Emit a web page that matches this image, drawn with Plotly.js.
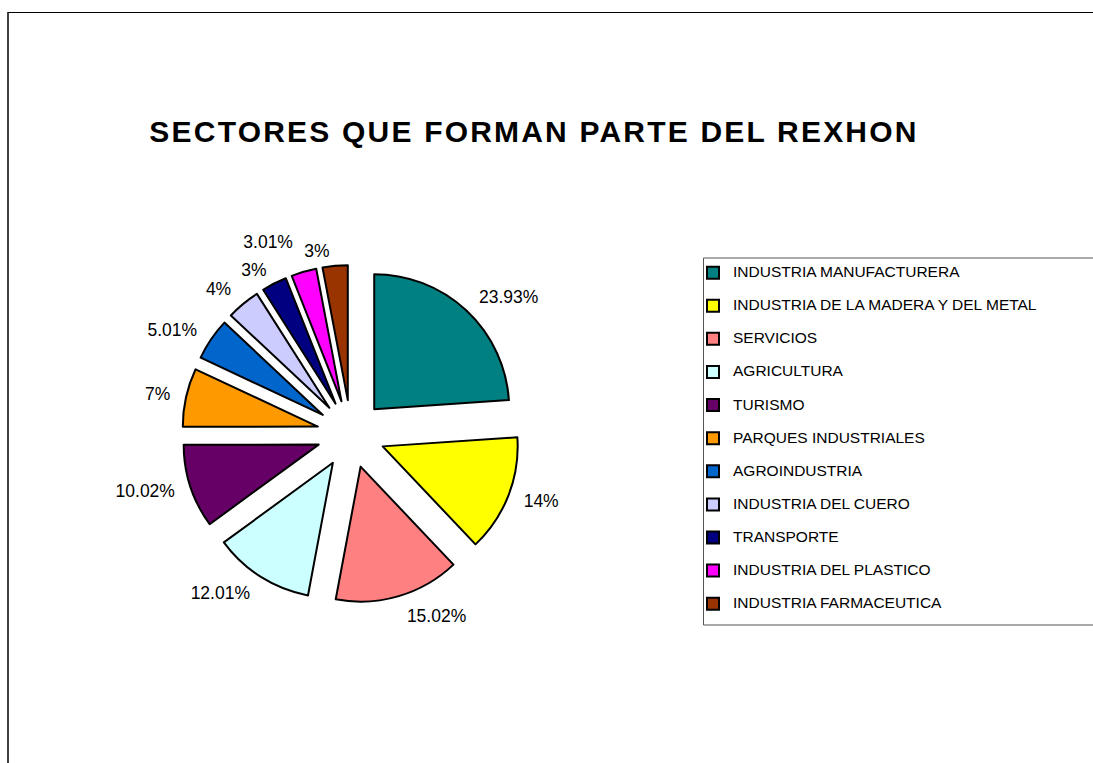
<!DOCTYPE html>
<html>
<head>
<meta charset="utf-8">
<script src="https://cdn.plot.ly/plotly-3.0.1.min.js"></script>
<style>
  html, body { margin: 0; padding: 0; background: #ffffff; }
  #chart { width: 1093px; height: 763px; }
</style>
</head>
<body>
<div id="chart"></div>
<script>
// ---- data ----
const categories = [
  "INDUSTRIA MANUFACTURERA",
  "INDUSTRIA DE LA MADERA Y DEL METAL",
  "SERVICIOS",
  "AGRICULTURA",
  "TURISMO",
  "PARQUES INDUSTRIALES",
  "AGROINDUSTRIA",
  "INDUSTRIA DEL CUERO",
  "TRANSPORTE",
  "INDUSTRIA DEL PLASTICO",
  "INDUSTRIA FARMACEUTICA"
];
const percentages = [23.93, 14, 15.02, 12.01, 10.02, 7, 5.01, 4, 3, 3.01, 3];
const sliceColors = [
  "#008080", "#FFFF00", "#FF8080", "#CCFFFF", "#660066", "#FF9900",
  "#0066CC", "#CCCCFF", "#000080", "#FF00FF", "#993300"
];
const chartTitle = "SECTORES QUE FORMAN PARTE DEL REXHON";

// ---- chart geometry ----
const W = 1093, H = 763;
const px = v => v / W;
const py = v => 1 - v / H;
const CX = 351, CY = 434;     // pie centre (px)
const R = 135;                // slice radius (px)
const SLICE_PULL = 34 / R;    // explode distance

// domain that gives radius R for a given pull
function domainFor(pull) {
  const half = R * (1 + pull);
  return { x: [px(CX - half), px(CX + half)], y: [py(CY + half), py(CY - half)] };
}

const legendLabels = categories.map(c => '<span style="font-size:15.5px">' + c + '</span><br> ');
const labelText = percentages.map(v => v + '%');
const labelFont = { size: 17.5, color: '#000000', family: 'Liberation Sans, Arial, sans-serif' };
const clear = categories.map(() => 'rgba(0,0,0,0)');

// visible slices + legend
const slices = {
  type: 'pie',
  labels: legendLabels,
  values: percentages,
  sort: false,
  direction: 'clockwise',
  rotation: 0,
  pull: SLICE_PULL,
  marker: { colors: sliceColors, line: { color: '#000000', width: 2 } },
  textposition: 'none',
  domain: domainFor(SLICE_PULL),
  hoverinfo: 'none',
  showlegend: true
};

// invisible label layers (same pie, only text drawn), split so small top labels do not get scooted
function labelLayer(distance, which) {
  const pull = distance / R - 1;
  return {
    type: 'pie',
    labels: legendLabels,
    values: percentages,
    sort: false,
    direction: 'clockwise',
    rotation: 0,
    pull: pull,
    marker: { colors: clear, line: { width: 0 } },
    text: labelText,
    textinfo: 'text',
    textposition: categories.map((c, i) => which.includes(i) ? 'outside' : 'none'),
    textfont: labelFont,
    outsidetextfont: labelFont,
    domain: domainFor(pull),
    hoverinfo: 'none',
    showlegend: false
  };
}

const mainLabels = labelLayer(180, [0, 1, 2, 3, 4, 5, 6, 7]);
const transportLabel = labelLayer(175, [8]);
const plasticLabel = labelLayer(190, [9]);
const farmaLabel = labelLayer(174, [10]);

const layout = {
  width: W,
  height: H,
  margin: { l: 0, r: 0, t: 0, b: 0, autoexpand: false },
  paper_bgcolor: '#ffffff',
  plot_bgcolor: '#ffffff',
  font: { family: 'Liberation Sans, Arial, sans-serif', color: '#000000' },
  title: {
    text: '<span style="letter-spacing:2.2px">' + chartTitle + '</span>',
    font: { size: 30, color: '#000000', family: 'Liberation Sans, Arial, sans-serif', weight: 'bold' },
    x: px(534), xref: 'container', xanchor: 'center',
    y: 1 - 131.2 / H, yref: 'container', yanchor: 'middle'
  },
  showlegend: true,
  legend: {
    x: px(693), xanchor: 'left',
    y: py(258.6), yanchor: 'top',
    bgcolor: 'rgba(0,0,0,0)',
    borderwidth: 0,
    valign: 'top',
    font: { size: 11.58, color: '#000000', family: 'Liberation Sans, Arial, sans-serif' },
    traceorder: 'normal'
  },
  shapes: [
    // outer chart frame (left + top)
    { type: 'line', xref: 'paper', yref: 'paper', x0: px(8), x1: px(8), y0: -0.02, y1: py(12), line: { color: '#404040', width: 2 } },
    { type: 'line', xref: 'paper', yref: 'paper', x0: px(8), x1: 1.02, y0: py(12.5), y1: py(12.5), line: { color: '#000000', width: 1.2 } },
    // legend box
    { type: 'rect', xref: 'paper', yref: 'paper', x0: px(703.5), x1: 1.02, y0: py(625), y1: py(258), line: { color: '#555555', width: 1 }, fillcolor: 'rgba(0,0,0,0)' }
  ]
};

Plotly.newPlot('chart', [slices, mainLabels, transportLabel, plasticLabel, farmaLabel], layout, { displayModeBar: false, staticPlot: true });
</script>
</body>
</html>
